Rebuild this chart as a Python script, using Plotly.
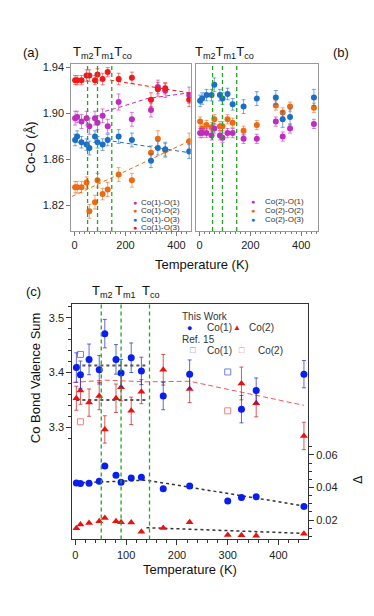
import plotly.graph_objects as go

# temperatures (K)
temps = [2, 10, 27, 47, 58, 80, 90, 110, 130, 173, 225, 300, 327, 356, 450]
temps_bvs = [2, 10, 27, 47, 58, 80, 90, 110, 130, 173, 225, 327, 356, 450]

# transition temperatures Tm2, Tm1, Tco
t_lines = [51, 90, 146]

# (a) Co(1)-O bond lengths (A)
co1_o1 = [1.896, 1.897, 1.893, 1.896, 1.889, 1.896, 1.892, 1.898, 1.889, 1.910, 1.895, 1.903, 1.923, 1.920, 1.916]
co1_o1_err = [0.006, 0.005, 0.006, 0.006, 0.007, 0.006, 0.006, 0.006, 0.006, 0.007, 0.006, 0.006, 0.006, 0.006, 0.007]
co1_o2 = [1.836, 1.836, 1.836, 1.840, 1.815, 1.823, 1.842, 1.830, 1.834, 1.847, 1.842, 1.866, 1.878, 1.868, 1.876]
co1_o2_err = [0.005, 0.005, 0.005, 0.005, 0.006, 0.006, 0.006, 0.005, 0.006, 0.006, 0.006, 0.006, 0.007, 0.006, 0.007]
co1_o3a = [1.877, 1.880, 1.875, 1.873, 1.870, 1.880, 1.875, 1.873, 1.877, 1.880, 1.877, 1.859, 1.870, 1.869, 1.867]
co1_o3a_err = [0.005, 0.005, 0.005, 0.005, 0.006, 0.005, 0.005, 0.005, 0.005, 0.006, 0.006, 0.006, 0.006, 0.006, 0.006]
co1_o3b = [1.929, 1.929, 1.929, 1.933, 1.933, 1.929, 1.934, 1.930, 1.936, 1.930, 1.931, 1.912, 1.921, 1.922, 1.912]
co1_o3b_err = [0.004, 0.004, 0.004, 0.005, 0.005, 0.004, 0.005, 0.005, 0.004, 0.005, 0.005, 0.006, 0.006, 0.005, 0.006]

# (a) dashed guide lines
fit_o1_t, fit_o1 = [120, 170, 285, 450], [1.902, 1.905, 1.913, 1.918]
fit_o2_t, fit_o2 = [-10, 450], [1.828, 1.876]
fit_o3a_t, fit_o3a = [150, 450], [1.876, 1.866]
fit_o3b_t, fit_o3b = [140, 300, 450], [1.929, 1.923, 1.918]

# (b) Co(2)-O bond lengths (A)
co2_o1 = [1.883, 1.883, 1.883, 1.881, 1.887, 1.881, 1.879, 1.883, 1.883, 1.878, 1.878, 1.893, 1.880, 1.887, 1.891]
co2_o2 = [1.893, 1.887, 1.890, 1.888, 1.895, 1.889, 1.889, 1.895, 1.892, 1.885, 1.890, 1.907, 1.901, 1.906, 1.905]
co2_o3 = [1.911, 1.913, 1.916, 1.916, 1.925, 1.916, 1.913, 1.917, 1.908, 1.906, 1.913, 1.914, 1.895, 1.897, 1.914]
co2_o1_err = [0.004] * 15
co2_o2_err = [0.004] * 15
co2_o3_err = [0.005, 0.005, 0.005, 0.005, 0.006, 0.005, 0.005, 0.005, 0.005, 0.006, 0.006, 0.006, 0.007, 0.007, 0.007]

# (c) bond valence sums
bvs_co1 = [3.409, 3.396, 3.424, 3.405, 3.471, 3.424, 3.399, 3.427, 3.403, 3.357, 3.397, 3.333, 3.367, 3.397]
bvs_co1_err = [0.027, 0.025, 0.028, 0.026, 0.026, 0.027, 0.025, 0.027, 0.025, 0.025, 0.026, 0.025, 0.023, 0.025]
bvs_co2 = [3.353, 3.367, 3.345, 3.357, 3.296, 3.353, 3.373, 3.330, 3.365, 3.405, 3.370, 3.380, 3.344, 3.284]
bvs_co2_err = [0.022, 0.025, 0.025, 0.025, 0.025, 0.026, 0.025, 0.025, 0.022, 0.028, 0.025, 0.030, 0.025, 0.025]
ref15_t = [10, 300]
ref15_co1 = [3.433, 3.401]
ref15_co2 = [3.310, 3.330]
bvs_trend_t, bvs_trend = [-5, 60, 140, 225, 450], [3.382, 3.386, 3.383, 3.384, 3.340]
avg_t = [2, 140]
avg_co1, avg_co2 = 3.413, 3.350

# (c) distortion index
delta_co1 = [0.0428, 0.0424, 0.0426, 0.0438, 0.0532, 0.0475, 0.0432, 0.0459, 0.0463, 0.0392, 0.0410, 0.0317, 0.0339, 0.0343, 0.0284]
delta_co2 = [0.0150, 0.0174, 0.0182, 0.0193, 0.0213, 0.0193, 0.0187, 0.0185, 0.0129, 0.0152, 0.0187, 0.0109, 0.0107, 0.0105, 0.0117]
delta1_fit_t, delta1_fit = [2, 140, 450], [0.0428, 0.0445, 0.0287]
delta2_fit_t, delta2_fit = [140, 450], [0.0154, 0.0119]

MAG, ORG, BLU, RED = "#c02cc0", "#ec6a14", "#1c6fc6", "#f01818"
CBLU, CRED = "#0a1ef0", "#ee1010"
GREEN = "#22a522"
FONT = "Liberation Sans, Arial, sans-serif"

W, H = 374, 616


def px(x):
    return x / W


def py(y):
    return 1 - y / H


fig = go.Figure()


def pts(x, y, err, color, xa, ya, symbol="circle", size=6, ecolor=None):
    ey = dict(type="data", array=err, color=ecolor or color, thickness=1, width=2) if err else None
    fig.add_trace(go.Scatter(
        x=x, y=y, mode="markers", xaxis=xa, yaxis=ya,
        marker=dict(color=color, size=size, symbol=symbol),
        error_y=ey, showlegend=False))


def line(x, y, color, xa, ya, dash="dash", width=1):
    fig.add_trace(go.Scatter(x=x, y=y, mode="lines", xaxis=xa, yaxis=ya,
                             line=dict(color=color, dash=dash, width=width),
                             showlegend=False, hoverinfo="skip"))


# panel (a)
for fx, fy, c in [(fit_o1_t, fit_o1, MAG), (fit_o2_t, fit_o2, ORG),
                  (fit_o3a_t, fit_o3a, BLU), (fit_o3b_t, fit_o3b, RED)]:
    line(fx, fy, c, "x", "y", dash="4px,3px", width=1)
pts(temps, co1_o2, co1_o2_err, ORG, "x", "y", ecolor="rgba(236,106,20,0.6)")
pts(temps, co1_o3a, co1_o3a_err, BLU, "x", "y", ecolor="rgba(28,111,198,0.6)")
pts(temps, co1_o1, co1_o1_err, MAG, "x", "y", ecolor="rgba(192,44,192,0.6)")
pts(temps, co1_o3b, co1_o3b_err, RED, "x", "y", ecolor="rgba(240,24,24,0.55)")

# panel (b)
pts(temps, co2_o2, co2_o2_err, ORG, "x2", "y2", ecolor="rgba(236,106,20,0.6)")
pts(temps, co2_o1, co2_o1_err, MAG, "x2", "y2", ecolor="rgba(192,44,192,0.6)")
pts(temps, co2_o3, co2_o3_err, BLU, "x2", "y2", ecolor="rgba(28,111,198,0.6)")

# panel (c)
line(bvs_trend_t, bvs_trend, "rgba(238,16,16,0.7)", "x3", "y3", dash="5px,3px", width=1)
line(avg_t, [avg_co1, avg_co1], "#555", "x3", "y3", dash="dot", width=2)
line(avg_t, [avg_co2, avg_co2], "#555", "x3", "y3", dash="dot", width=2)
pts(ref15_t, ref15_co1, None, "#7080e8", "x3", "y3", symbol="square-open", size=6)
pts(ref15_t, ref15_co2, None, "#f08080", "x3", "y3", symbol="square-open", size=6)
pts(temps_bvs, bvs_co2, bvs_co2_err, CRED, "x3", "y3", symbol="triangle-up", size=7,
    ecolor="rgba(210,20,20,0.7)")
pts(temps_bvs, bvs_co1, bvs_co1_err, CBLU, "x3", "y3", size=7, ecolor="rgba(30,40,210,0.7)")
line(delta1_fit_t, delta1_fit, "#333", "x3", "y4", dash="dot", width=1.5)
line(delta2_fit_t, delta2_fit, "#333", "x3", "y4", dash="dot", width=1.5)
pts(temps, delta_co1, None, CBLU, "x3", "y4", size=7)
pts(temps, delta_co2, None, CRED, "x3", "y4", symbol="triangle-up", size=7)

# green transition lines
shapes = []
for xa, ya in [("x", "y"), ("x2", "y2"), ("x3", "y3")]:
    for t in t_lines:
        shapes.append(dict(type="line", xref=xa, yref=ya + " domain", x0=t, x1=t, y0=0, y1=1,
                           line=dict(color=GREEN, width=1.3, dash="4px,3px"), layer="above"))

tick_font = dict(family=FONT, size=11, color="#222")
frame_ab = dict(showline=True, linecolor="#999", linewidth=1, mirror=True, showgrid=False,
                zeroline=False, tickfont=tick_font)

annotations = []


def note(text, x, y, size=12, xanchor="center", angle=0, color="#111"):
    annotations.append(dict(text=text, x=px(x), y=py(y), xref="paper", yref="paper",
                            showarrow=False, xanchor=xanchor, yanchor="middle", textangle=angle,
                            font=dict(family=FONT, size=size, color=color)))


note("(a)", 23, 42, size=13)
note("(b)", 333, 42, size=13)
note("(c)", 25, 282, size=13)
note("T<sub>m2</sub>T<sub>m1</sub>T<sub>co</sub>", 63, 42, size=13, xanchor="left")
note("T<sub>m2</sub>T<sub>m1</sub>T<sub>co</sub>", 185, 42, size=13, xanchor="left")
note("T<sub>m2</sub>", 94, 282, size=13)
note("T<sub>m1</sub>", 117.5, 282, size=13)
note("T<sub>co</sub>", 143, 282, size=13)
note("Co-O (Å)", 22, 137, size=13, angle=-90)
note("Temperature (K)", 194, 255, size=13)
note("Temperature (K)", 182, 561, size=13)
note("Co Bond Valence Sum", 27, 369, size=13, angle=-90)
note("Δ", 350, 471, size=12, angle=-90)

for i, (lab, c) in enumerate([("Co(1)-O(1)", MAG), ("Co(1)-O(2)", ORG),
                              ("Co(1)-O(3)", BLU), ("Co(1)-O(3)", RED)]):
    y = 192.3 + i * 8.4
    note(f"<span style='color:{c}'>●</span>", 126.7, y, size=7)
    note(lab, 131, y, size=8, xanchor="left", color="#333")
for i, (lab, c) in enumerate([("Co(2)-O(1)", MAG), ("Co(2)-O(2)", ORG), ("Co(2)-O(3)", BLU)]):
    y = 191.5 + i * 8.8
    note(f"<span style='color:{c}'>●</span>", 245, y, size=7)
    note(lab, 255, y, size=8, xanchor="left", color="#333")

note("This Work", 172, 306.7, size=10, xanchor="left", color="#333")
note(f"<span style='color:{CBLU}'>●</span>", 181.7, 318.3, size=9)
note("Co(1)", 197, 318.3, size=10, xanchor="left", color="#333")
note(f"<span style='color:{CRED}'>▲</span>", 229, 318.3, size=8)
note("Co(2)", 239, 318.3, size=10, xanchor="left", color="#333")
note("Ref. 15", 172, 330, size=10, xanchor="left", color="#333")
note("<span style='color:#7080e8'>□</span>", 185, 341, size=9)
note("Co(1)", 197, 341, size=10, xanchor="left", color="#333")
note("<span style='color:#f08080'>□</span>", 234, 341, size=9)
note("Co(2)", 248, 341, size=10, xanchor="left", color="#333")

fig.update_layout(
    width=W, height=H, margin=dict(l=0, r=0, t=0, b=0),
    paper_bgcolor="white", plot_bgcolor="white", showlegend=False,
    font=dict(family=FONT, color="#222"),
    shapes=shapes, annotations=annotations,
    xaxis=dict(domain=[px(63.3), px(182.7)], range=[-13, 456], anchor="y",
               tickvals=[0, 200, 400], ticks="outside", ticklen=4, tickcolor="#777",
               minor=dict(dtick=20, ticks="outside", ticklen=2, tickcolor="#777"), **frame_ab),
    yaxis=dict(domain=[py(221), py(53.3)], range=[1.798, 1.943], anchor="x",
               tickvals=[1.82, 1.86, 1.90, 1.94], ticktext=["1.82", "1.86", "1.90", "1.94"],
               ticks="outside", ticklen=4, tickcolor="#777", **frame_ab),
    xaxis2=dict(domain=[px(188.3), px(310)], range=[-13, 466], anchor="y2",
                tickvals=[0, 200, 400], ticks="outside", ticklen=4, tickcolor="#777",
                minor=dict(dtick=20, ticks="outside", ticklen=2, tickcolor="#777"), **frame_ab),
    yaxis2=dict(domain=[py(221), py(53.3)], range=[1.798, 1.943], anchor="x2",
                showticklabels=False, ticks="", **frame_ab),
    xaxis3=dict(domain=[px(64.3), px(300)], range=[-6, 458], anchor="y3",
                tickvals=[0, 100, 200, 300, 400], ticks="outside", ticklen=5, tickcolor="#333",
                minor=dict(dtick=20, ticks="outside", ticklen=3, tickcolor="#333"),
                showline=True, linecolor="#333", linewidth=1, mirror=True, showgrid=False,
                zeroline=False, tickfont=tick_font),
    yaxis3=dict(domain=[py(531), py(294)], range=[3.095, 3.526], anchor="x3",
                tickvals=[3.3, 3.4, 3.5], ticks="outside", ticklen=5, tickcolor="#333",
                minor=dict(tickmode="array", ticks="outside", ticklen=3, tickcolor="#333",
                           tickvals=[3.28, 3.30, 3.32, 3.34, 3.36, 3.38, 3.42, 3.44, 3.46, 3.48, 3.52]),
                showline=True, linecolor="#333", linewidth=1, mirror=True, showgrid=False,
                zeroline=False, tickfont=tick_font),
    yaxis4=dict(overlaying="y3", side="right", anchor="x3", range=[0.0082, 0.1527],
                tickvals=[0.02, 0.04, 0.06], ticktext=["0.02", "0.04", "0.06"],
                ticks="outside", ticklen=5, tickcolor="#333",
                minor=dict(tickmode="array", ticks="outside", ticklen=3, tickcolor="#333",
                           tickvals=[0.01, 0.015, 0.025, 0.03, 0.035, 0.045, 0.05, 0.055, 0.065]),
                showline=True, linecolor="#333", showgrid=False, zeroline=False, tickfont=tick_font),
)

fig.write_html("out.html")
